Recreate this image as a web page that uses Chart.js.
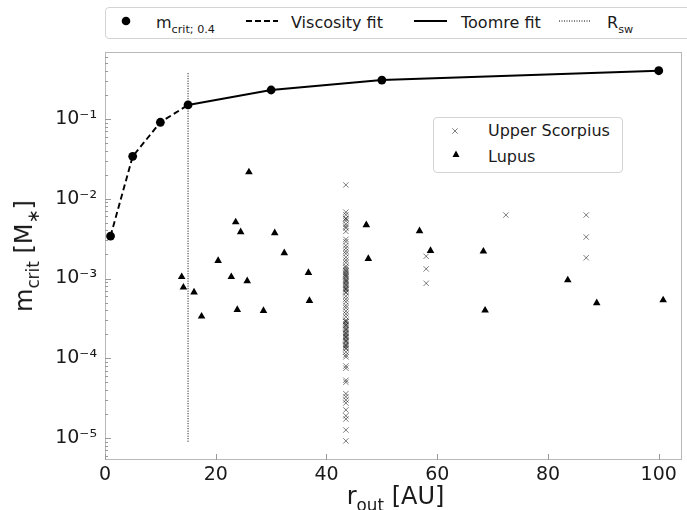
<!DOCTYPE html>
<html lang="en">
<head>
<meta charset="UTF-8">
<title>Critical disc mass vs outer radius</title>
<style>
  body { margin: 0; background: #fff; overflow: hidden; font-family: 'DejaVu Sans', sans-serif; }
  #wrap { position: relative; width: 687px; height: 510px; overflow: hidden; }
  #chart { position: absolute; left: 0; top: 0; }
  .legend { position: absolute; background: #fff; border: 1px solid #d4d4d4; border-radius: 4px; color: #1a1a1a; font-size: 16px; }
  .legend .t { position: absolute; white-space: nowrap; line-height: 20px; }
  .legend svg { position: absolute; overflow: visible; }
  sub { font-size: 70%; vertical-align: baseline; position: relative; top: 0.42em; }
  #top { left: 105px; top: 7px; width: 620px; height: 30px; }
  #inner { left: 433px; top: 117px; width: 188px; height: 54px; }
  .title { position: absolute; font-size: 24px; line-height: 28px; color: #1a1a1a; white-space: nowrap; }
  #xtitle { left: 105px; width: 581px; top: 482px; text-align: center; }
  #ytitle { left: 25px; top: 256px; transform: translate(-50%, -50%) rotate(-90deg); }
</style>
<script src="https://cdn.jsdelivr.net/npm/chart.js"></script>
</head>
<body>
<div id="wrap">
  <canvas id="chart" width="687" height="510"></canvas>

  <div class="legend" id="top">
    <svg style="left:15px;top:8px" width="10" height="10"><circle cx="5" cy="5" r="4.3" fill="#000"/></svg>
    <span class="t" style="left:50px;top:5px">m<sub>crit; 0.4</sub></span>
    <svg style="left:140px;top:11px" width="32" height="4"><line x1="0" y1="2" x2="32" y2="2" stroke="#000" stroke-width="1.8" stroke-dasharray="6 3"/></svg>
    <span class="t" style="left:185px;top:5px">Viscosity fit</span>
    <svg style="left:308px;top:11px" width="33" height="4"><line x1="0" y1="2" x2="33" y2="2" stroke="#000" stroke-width="1.8"/></svg>
    <span class="t" style="left:355px;top:5px">Toomre fit</span>
    <svg style="left:453px;top:11px" width="32" height="4"><line x1="0" y1="2" x2="32" y2="2" stroke="#000" stroke-width="1" stroke-dasharray="1 1.5"/></svg>
    <span class="t" style="left:501px;top:5px">R<sub>sw</sub></span>
  </div>

  <div class="legend" id="inner">
    <svg style="left:17px;top:9px" width="8" height="8"><path d="M1.3 1.3 L6.7 6.7 M6.7 1.3 L1.3 6.7" stroke="rgba(0,0,0,0.5)" stroke-width="1"/></svg>
    <span class="t" style="left:54px;top:3px">Upper Scorpius</span>
    <svg style="left:18px;top:32px" width="8" height="8"><path d="M4 0.5 L7.5 7 L0.5 7 Z" fill="#000"/></svg>
    <span class="t" style="left:54px;top:28.5px">Lupus</span>
  </div>

  <div class="title" id="xtitle">r<sub>out</sub> [AU]</div>
  <div class="title" id="ytitle">m<sub>crit</sub> [M<sub>∗</sub>]</div>
</div>

<script>
// critical mass m_crit;0.4 at the sampled outer radii
const rCrit = [1, 5, 10, 15, 30, 50, 100];
const mCrit = [3.4e-3, 0.034, 0.091, 0.15, 0.231, 0.308, 0.403];

// swap radius (vertical dotted line)
const rSw = 15;
const rSwRange = [9.0e-6, 0.39];

// Lupus discs
const lupusR = [13.85, 14.16, 16.08, 17.44, 20.43, 22.81, 23.6, 23.89, 24.5, 25.68, 25.99, 28.62, 30.65,
                32.38, 36.74, 36.92, 47.19, 47.55, 56.8, 58.78, 68.33, 68.64, 83.57, 88.8, 100.8];
const lupusM = [1.05e-3, 7.76e-4, 6.72e-4, 3.36e-4, 1.67e-3, 1.05e-3, 5.1e-3, 4.06e-4, 3.83e-3, 9.3e-4, 0.0216, 3.94e-4, 3.72e-3,
                2.09e-3, 1.18e-3, 5.27e-4, 4.69e-3, 1.77e-3, 3.94e-3, 2.23e-3, 2.19e-3, 3.99e-4, 9.57e-4, 4.93e-4, 5.37e-4];

// Upper Scorpius discs
const usR = [43.5, 43.5, 43.5, 43.5, 43.5, 43.5, 43.5, 43.5, 43.5, 43.5,
             43.5, 43.5, 43.5, 43.5, 43.5, 43.5, 43.5, 43.5, 43.5, 43.5,
             43.5, 43.5, 43.5, 43.5, 43.5, 43.5, 43.5, 43.5, 43.5, 43.5,
             43.5, 43.5, 43.5, 43.5, 43.5, 43.5, 43.5, 43.5, 43.5, 43.5,
             43.5, 43.5, 43.5, 43.5, 43.5, 43.5, 43.5, 43.5, 43.5, 43.5,
             43.5, 43.5, 43.5, 43.5, 43.5, 43.5, 43.5, 43.5, 43.5, 43.5,
             43.5, 43.5, 43.5, 43.5, 43.5, 43.5, 43.5, 43.5, 43.5, 43.5,
             43.5, 43.5, 43.5, 43.5, 43.5, 43.5, 43.5, 43.5, 43.5, 43.5,
             43.5, 43.5, 43.5, 43.5, 43.5, 43.5, 43.5,
             58.0, 58.0, 58.0, 72.4, 86.9, 86.9, 86.9];
const usM = [1.49e-2, 6.8e-3, 6.3e-3, 5.7e-3, 5.6e-3, 5.3e-3, 4.8e-3, 4.5e-3, 4.3e-3, 3.9e-3,
             3.1e-3, 2.9e-3, 2.6e-3, 2.4e-3, 2.2e-3, 2.05e-3, 1.85e-3, 1.7e-3, 1.58e-3, 1.43e-3,
             1.36e-3, 1.29e-3, 1.25e-3, 1.2e-3, 1.15e-3, 1.12e-3, 1.08e-3, 1.05e-3, 1.0e-3, 9.6e-4,
             9.3e-4, 9.0e-4, 8.6e-4, 8.3e-4, 8.0e-4, 7.6e-4, 7.4e-4, 7.2e-4, 6.8e-4, 6.6e-4,
             6.0e-4, 5.5e-4, 5.1e-4, 4.6e-4, 4.3e-4, 3.9e-4, 3.6e-4, 3.3e-4, 3.0e-4, 2.9e-4,
             2.86e-4, 2.7e-4, 2.6e-4, 2.55e-4, 2.4e-4, 2.3e-4, 2.25e-4, 2.12e-4, 2.05e-4, 2.0e-4,
             1.9e-4, 1.85e-4, 1.8e-4, 1.7e-4, 1.65e-4, 1.6e-4, 1.5e-4, 1.45e-4, 1.42e-4, 1.35e-4,
             1.31e-4, 1.2e-4, 1.1e-4, 1.04e-4, 8.0e-5, 7.5e-5, 5.3e-5, 5.0e-5, 3.6e-5, 3.3e-5,
             3.0e-5, 2.75e-5, 2.25e-5, 1.9e-5, 1.73e-5, 1.26e-5, 9.2e-6,
             1.9e-3, 1.32e-3, 8.7e-4, 6.25e-3, 6.25e-3, 3.31e-3, 1.82e-3];

// axes
const xTicks = [0, 20, 40, 60, 80, 100];
const yTicks = [1e-5, 1e-4, 1e-3, 1e-2, 1e-1];
const yTickLabels = ['10⁻⁵', '10⁻⁴', '10⁻³', '10⁻²', '10⁻¹'];

const pts = (xs, ys) => xs.map((x, i) => ({ x: x, y: ys[i] }));

// frame + inward tick marks like the original figure
const frameTicks = {
    id: 'frameTicks',
    beforeDatasetsDraw(chart) {
        const { ctx, chartArea: a, scales: { x, y } } = chart;
        ctx.save();
        ctx.strokeStyle = '#b8b8b8';
        ctx.lineWidth = 1;
        ctx.strokeRect(a.left + 0.5, a.top + 0.5, a.right - a.left - 1, a.bottom - a.top - 1);
        ctx.strokeStyle = '#999';
        ctx.beginPath();
        xTicks.forEach(v => {
            const px = Math.round(x.getPixelForValue(v)) + 0.5;
            ctx.moveTo(px, a.bottom);
            ctx.lineTo(px, a.bottom - 6);
        });
        for (let e = -6; e <= 0; e++) {
            for (let m = 1; m <= 9; m++) {
                const v = m * Math.pow(10, e);
                if (v < y.min || v > y.max) continue;
                const py = Math.round(y.getPixelForValue(v)) + 0.5;
                ctx.moveTo(a.left, py);
                ctx.lineTo(a.left + (m === 1 ? 6 : 3), py);
            }
        }
        ctx.stroke();
        ctx.restore();
    }
};

const tickFont = { family: 'DejaVu Sans', size: 19 };

new Chart(document.getElementById('chart'), {
    type: 'scatter',
    data: {
        datasets: [
            {
                label: 'm_crit; 0.4',
                data: pts(rCrit, mCrit),
                pointRadius: 4.4,
                pointBackgroundColor: '#000',
                pointBorderWidth: 0,
                showLine: false
            },
            {
                label: 'Viscosity fit',
                data: pts(rCrit.slice(0, 4), mCrit.slice(0, 4)),
                showLine: true,
                borderColor: '#000',
                borderWidth: 1.9,
                borderDash: [6, 3.5],
                pointRadius: 0
            },
            {
                label: 'Toomre fit',
                data: pts(rCrit.slice(3), mCrit.slice(3)),
                showLine: true,
                borderColor: '#000',
                borderWidth: 1.9,
                pointRadius: 0
            },
            {
                label: 'R_sw',
                data: pts([rSw, rSw], rSwRange),
                showLine: true,
                borderColor: '#000',
                borderWidth: 1,
                borderDash: [1, 1.5],
                pointRadius: 0
            },
            {
                label: 'Lupus',
                data: pts(lupusR, lupusM),
                pointStyle: 'triangle',
                pointRadius: 4.4,
                pointBackgroundColor: '#000',
                pointBorderColor: '#000',
                pointBorderWidth: 0
            },
            {
                label: 'Upper Scorpius',
                data: pts(usR, usM),
                pointStyle: 'crossRot',
                pointRadius: 3.8,
                pointBorderColor: 'rgba(0,0,0,0.5)',
                pointBorderWidth: 1
            }
        ]
    },
    options: {
        responsive: false,
        animation: false,
        layout: { padding: { top: 52, right: 1, left: 0, bottom: 0 } },
        plugins: { legend: { display: false }, tooltip: { enabled: false } },
        scales: {
            x: {
                type: 'linear',
                min: 0,
                max: 104.2,
                afterBuildTicks: s => { s.ticks = xTicks.map(v => ({ value: v })); },
                afterFit: s => { s.height = 50; },
                ticks: { font: tickFont, color: '#1a1a1a', padding: 4, maxRotation: 0, autoSkip: false },
                grid: { display: false, drawTicks: false },
                border: { display: false }
            },
            y: {
                type: 'logarithmic',
                min: 5.3e-6,
                max: 0.692,
                afterBuildTicks: s => { s.ticks = yTicks.map(v => ({ value: v })); },
                afterFit: s => { s.width = 105; },
                ticks: {
                    font: tickFont,
                    color: '#1a1a1a',
                    padding: 8,
                    autoSkip: false,
                    callback: v => {
                        const i = yTicks.indexOf(v);
                        return i >= 0 ? yTickLabels[i] : '';
                    }
                },
                grid: { display: false, drawTicks: false },
                border: { display: false }
            }
        }
    },
    plugins: [frameTicks]
});
</script>
</body>
</html>
